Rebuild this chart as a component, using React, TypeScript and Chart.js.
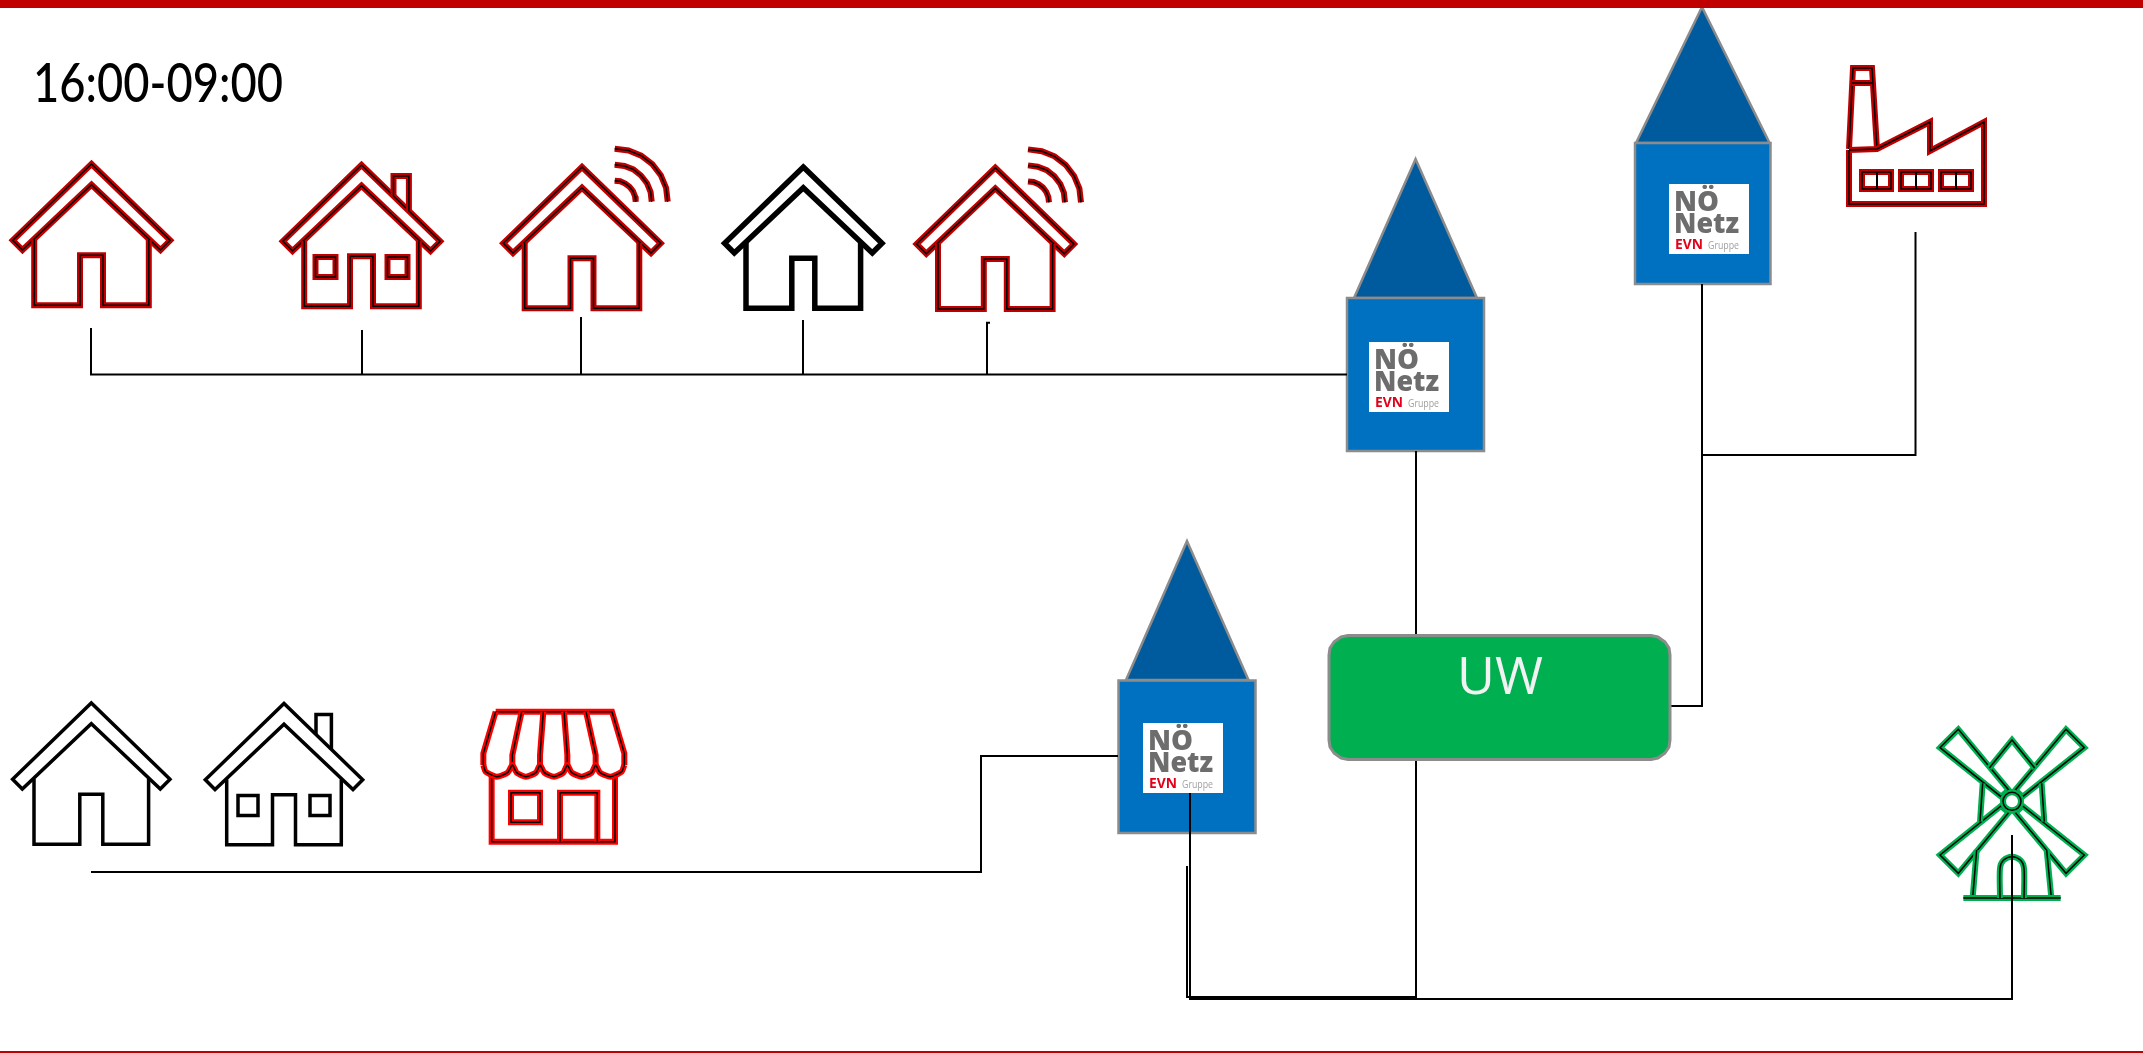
import React, { useEffect, useRef } from "react";
import { Chart, registerables } from "chart.js";

Chart.register(...registerables);

type P = [number, number];

const WIDTH = 2143;
const HEIGHT = 1053;

// ---- icon outlines, relative to the roof apex ----
const ROOF: P[] = [[0, 0], [78.7, 76.3], [69, 86], [0, 20.7], [-69, 86], [-78.7, 76.3]];
const WALL: P[] = [[-57.3, 76], [-57.3, 141.3], [-11.5, 141.3], [-11.5, 91.3], [11.5, 91.3], [11.5, 141.3], [57.3, 141.3], [57.3, 76]];
const CHIMNEY: P[] = [[32, 31], [32, 11], [47.4, 11], [47.4, 46]];
const WINDOW_LEFT: P[] = [[-46, 92], [-26, 92], [-26, 112], [-46, 112]];
const WINDOW_RIGHT: P[] = [[26, 92], [46, 92], [46, 112], [26, 112]];
const WIFI_OUTER: P[] = [[32.7, -18.3], [46.5, -16.5], [59.2, -11.4], [70.3, -2.9], [78.8, 8.2], [84.1, 20.9], [85.7, 34.7]];
const WIFI_MIDDLE: P[] = [[32.7, -2.3], [42.4, -1], [51.4, 2.4], [59, 8.5], [65, 16.2], [68.6, 25], [69.7, 34.7]];
const WIFI_INNER: P[] = [[32.7, 13.7], [38.2, 14.3], [43.2, 16.5], [47.6, 19.8], [51, 24.2], [53, 29.2], [53.7, 34.7]];

// ---- houses: apex positions ----
const RED_PLAIN_HOUSE: P = [91.5, 164];
const RED_CHIMNEY_HOUSE: P = [361.5, 165];
const RED_WIFI_HOUSES: P[] = [[582, 167], [995.3, 167.7]];
const BLACK_HOUSE: P = [803.3, 167];
const THIN_HOUSE: P = [91.3, 703];
const THIN_CHIMNEY_HOUSE: P = [284, 703.5];

// ---- shop, 1/3 scale around (480,700) ----
const SHOP_AWNING: P[] = [[47, 35], [396, 35], [433, 160], [433, 195]];
const SHOP_AWNING_LEFT: P[] = [[47, 35], [10, 160], [10, 195]];
const SHOP_SCALLOPS: P[] = [[10, 195], [17, 215], [50, 230], [83, 218], [97, 195], [110, 218], [138, 230], [168, 218], [180, 195], [193, 218], [222, 230], [250, 218], [262, 195], [275, 218], [305, 230], [335, 218], [347, 195], [360, 218], [392, 230], [425, 215], [433, 195]];
const SHOP_RIBS: P[][] = [
  [[125, 35], [97, 165], [97, 195]],
  [[190, 35], [180, 165], [180, 195]],
  [[252, 35], [262, 165], [262, 195]],
  [[318, 35], [347, 165], [347, 195]],
];
const SHOP_BODY: P[] = [[35, 228], [35, 425], [405, 425], [405, 228]];
const SHOP_WINDOW: P[] = [[93, 278], [180, 278], [180, 367], [93, 367]];
const SHOP_DOOR: P[] = [[240, 425], [240, 278], [352, 278], [352, 425]];

// ---- factory, absolute pixels ----
const FACTORY_BODY: P[] = [[1849, 150], [1849, 204], [1984, 204], [1984, 122], [1930, 151], [1930, 122], [1877, 149], [1849, 150]];
const FACTORY_STACK: P[] = [[1849, 149], [1853, 68], [1872, 68], [1877, 149]];
const FACTORY_BAND: P[] = [[1852, 83], [1872, 83]];
const FACTORY_WINDOWS: P[][] = [
  [[1862, 172], [1891, 172], [1891, 189], [1862, 189]],
  [[1901, 172], [1931, 172], [1931, 189], [1901, 189]],
  [[1941, 172], [1971, 172], [1971, 189], [1941, 189]],
];
const FACTORY_DIVIDERS: P[][] = [
  [[1877, 172], [1877, 189]],
  [[1916, 172], [1916, 189]],
  [[1956, 172], [1956, 189]],
];

// ---- windmill, 1/3 scale around (1900,700) ----
const MILL_BLADES: P[][] = [
  [[175, 88], [120, 143], [303, 290], [326, 270]],
  [[498, 88], [553, 143], [368, 290], [346, 270]],
  [[120, 465], [175, 520], [326, 338], [303, 318]],
  [[553, 465], [498, 520], [346, 338], [368, 318]],
];
const MILL_CAP: P[] = [[268, 204], [336, 120], [404, 204]];
const MILL_TOWER: P[][] = [
  [[248, 250], [240, 365]],
  [[425, 250], [433, 365]],
  [[230, 450], [218, 593]],
  [[440, 450], [454, 593]],
];
const MILL_BASE: P[] = [[190, 594], [482, 594]];
const MILL_DOOR: P[] = [[300, 594], [300, 505], [310, 481], [336, 470], [362, 481], [372, 505], [372, 594]];
const MILL_HUB: P = [336, 304];

// ---- stations ----
const TOWER_ROOFS: P[][] = [
  [[1354, 298], [1415.6, 159], [1477, 298]],
  [[1636, 143], [1702, 7], [1769.6, 143]],
  [[1126, 680], [1187, 541], [1248.5, 680]],
];
const TOWER_BODIES: P[][] = [
  [[1347, 298], [1484, 298], [1484, 451], [1347, 451]],
  [[1635, 143], [1770.5, 143], [1770.5, 284], [1635, 284]],
  [[1118.5, 680.5], [1255.5, 680.5], [1255.5, 833], [1118.5, 833]],
];
const LOGO_ORIGINS: P[] = [[1369, 342], [1669, 184], [1143, 723]];
const LOGO_BOX: P[] = [[0, 0], [80, 0], [80, 70], [0, 70]];

const UW_BOX: P[] = [
  [1348, 635.5], [1651, 635.5], [1658, 637], [1665, 642], [1669, 648], [1670, 655],
  [1670, 740], [1669, 747], [1665, 753], [1658, 758], [1651, 759.5],
  [1348, 759.5], [1341, 758], [1334, 753], [1330, 747], [1329, 740],
  [1329, 655], [1330, 648], [1334, 642], [1341, 637],
];

// ---- connectors ----
const CONNECTORS: P[][] = [
  [[91, 328], [91, 374.5], [1347, 374.5]],
  [[362, 330], [362, 374.5]],
  [[581, 317], [581, 374.5]],
  [[803, 320], [803, 374.5]],
  [[990, 322.7], [987, 322.7], [987, 374.5]],
  [[1416, 451], [1416, 635]],
  [[1416, 760], [1416, 997], [1187, 997], [1187, 866]],
  [[1190, 793], [1190, 999], [2012, 999], [2012, 835]],
  [[1670, 706], [1702, 706], [1702, 284]],
  [[1702, 455], [1915.5, 455], [1915.5, 232]],
  [[91, 872], [981, 872], [981, 756], [1118, 756]],
];

const TOP_BAR: P[] = [[0, 4], [2143, 4]];
const BOTTOM_BAR: P[] = [[0, 1052], [2143, 1052]];

// ---- text ----
const TITLE = "16:00-09:00";
const UW_LABEL = "UW";
const LOGO_LINES = ["NÖ", "Netz", "EVN", "Gruppe"];

const RED = "#C00000";
const SHOP_RED = "#FF0000";
const GREEN = "#00B050";
const GREY = "#8C8C8C";

function close(pts: P[]): P[] {
  return [...pts, pts[0], pts[1]];
}
function move(pts: P[], o: P): P[] {
  return pts.map(([x, y]) => [x + o[0], y + o[1]] as P);
}
function third(pts: P[], o: P): P[] {
  return pts.map(([x, y]) => [o[0] + x / 3, o[1] + y / 3] as P);
}

function buildDatasets() {
  const list: any[] = [];
  const add = (pts: P[], color: string, w: number, extra: any = {}) =>
    list.push({
      data: pts.map(([x, y]) => ({ x, y })),
      showLine: true,
      pointRadius: 0,
      borderColor: color,
      borderWidth: w,
      borderJoinStyle: "miter",
      borderCapStyle: "butt",
      fill: false,
      clip: false,
      tension: 0,
      ...extra,
    });
  const dbl = (pts: P[], outer: string, extra: any = {}) => {
    add(pts, outer, 6, extra);
    add(pts, "#000000", 1.5, extra);
  };
  const house = (o: P, stroke: (p: P[]) => void) => {
    stroke(close(move(ROOF, o)));
    stroke(move(WALL, o));
  };
  const extras = (o: P, stroke: (p: P[]) => void) => {
    stroke(move(CHIMNEY, o));
    stroke(close(move(WINDOW_LEFT, o)));
    stroke(close(move(WINDOW_RIGHT, o)));
  };
  const redStroke = (p: P[]) => dbl(p, RED);
  const thin = (p: P[]) => add(p, "#000000", 3.5);
  const bold = (p: P[]) => add(p, "#000000", 5.5);

  house(RED_PLAIN_HOUSE, redStroke);
  house(RED_CHIMNEY_HOUSE, redStroke);
  extras(RED_CHIMNEY_HOUSE, redStroke);
  RED_WIFI_HOUSES.forEach((o) => {
    house(o, redStroke);
    [WIFI_OUTER, WIFI_MIDDLE, WIFI_INNER].forEach((a) => redStroke(move(a, o)));
  });
  house(BLACK_HOUSE, bold);
  house(THIN_HOUSE, thin);
  house(THIN_CHIMNEY_HOUSE, thin);
  extras(THIN_CHIMNEY_HOUSE, thin);

  // shop
  const shopO: P = [480, 700];
  const shopStroke = (p: P[]) => dbl(p, SHOP_RED);
  shopStroke(third(SHOP_BODY, shopO));
  shopStroke(close(third(SHOP_WINDOW, shopO)));
  shopStroke(third(SHOP_DOOR, shopO));
  shopStroke(third(SHOP_AWNING, shopO));
  shopStroke(third(SHOP_AWNING_LEFT, shopO));
  SHOP_RIBS.forEach((r) => shopStroke(third(r, shopO)));
  dbl(third(SHOP_SCALLOPS, shopO), SHOP_RED, { tension: 0.2 });

  // factory
  redStroke(FACTORY_STACK);
  redStroke(FACTORY_BAND);
  redStroke(FACTORY_BODY);
  FACTORY_WINDOWS.forEach((w) => redStroke(close(w)));
  FACTORY_DIVIDERS.forEach((w) => add(w, "#000000", 2));

  // stations
  TOWER_ROOFS.forEach((t) =>
    add(close(t), GREY, 2.5, { fill: "shape", backgroundColor: "#005A9E" })
  );
  TOWER_BODIES.forEach((t) =>
    add(close(t), GREY, 2.5, { fill: "shape", backgroundColor: "#0070C0" })
  );

  // connectors go over the station bodies, under the logos
  CONNECTORS.forEach((c) => add(c, "#000000", 2));

  LOGO_ORIGINS.forEach((o) =>
    add(close(move(LOGO_BOX, o)), "#FFFFFF", 0, { fill: "shape", backgroundColor: "#FFFFFF" })
  );

  add(close(UW_BOX), GREY, 3, { fill: "shape", backgroundColor: GREEN, borderJoinStyle: "round" });

  // windmill
  const millO: P = [1900, 700];
  const millStroke = (p: P[]) => dbl(p, GREEN);
  MILL_BLADES.forEach((b) => millStroke(close(third(b, millO))));
  millStroke(third(MILL_CAP, millO));
  MILL_TOWER.forEach((t) => millStroke(third(t, millO)));
  millStroke(third(MILL_BASE, millO));
  dbl(third(MILL_DOOR, millO), GREEN, { tension: 0.3 });
  const hub = third([MILL_HUB], millO);
  [[GREEN, 6], ["#000000", 1.5]].forEach(([c, w]) =>
    list.push({
      data: [{ x: hub[0][0], y: hub[0][1] }],
      showLine: false,
      pointRadius: 9,
      pointBorderWidth: w,
      pointBorderColor: c,
      pointBackgroundColor: "rgba(0,0,0,0)",
      clip: false,
    })
  );

  // the wind turbine's feed runs over its icon
  add([[2012, 999], [2012, 835]], "#000000", 2);

  add(TOP_BAR, RED, 8);
  add(BOTTOM_BAR, RED, 2);

  list.forEach((d, i) => (d.order = -i));
  return list;
}

const textPlugin = {
  id: "diagramText",
  afterDatasetsDraw(chart: any) {
    const { ctx, scales } = chart;
    const put = (
      text: string, x: number, y: number, font: string, color: string,
      align: CanvasTextAlign = "left", maxWidth?: number
    ) => {
      ctx.save();
      ctx.font = font;
      ctx.fillStyle = color;
      ctx.textAlign = align;
      ctx.textBaseline = "alphabetic";
      const px = scales.x.getPixelForValue(x);
      const py = scales.y.getPixelForValue(y);
      if (maxWidth) ctx.fillText(text, px, py, maxWidth);
      else ctx.fillText(text, px, py);
      ctx.restore();
    };
    put(TITLE, 33, 102, '500 54px Lato, "Open Sans", sans-serif', "#000000", "left", 250);
    put(UW_LABEL, 1500, 693.5, '52px "Open Sans", sans-serif', "#F2F2F2", "center");
    LOGO_ORIGINS.forEach(([ox, oy]) => {
      put(LOGO_LINES[0], ox + 5, oy + 27, '800 28px "Open Sans", sans-serif', "#6D6D6D", "left", 45);
      put(LOGO_LINES[1], ox + 5, oy + 49, '800 28px "Open Sans", sans-serif', "#6D6D6D", "left", 65);
      put(LOGO_LINES[2], ox + 6, oy + 64.7, 'bold 14px "Open Sans", sans-serif', "#E2001A", "left", 28);
      put(LOGO_LINES[3], ox + 39, oy + 64.7, '11px "Open Sans", sans-serif', "#A0A0A0", "left", 31);
    });
  },
};

export default function App() {
  const ref = useRef<HTMLCanvasElement>(null);
  useEffect(() => {
    const chart = new Chart(ref.current as HTMLCanvasElement, {
      type: "scatter",
      data: { datasets: buildDatasets() },
      plugins: [textPlugin],
      options: {
        animation: false,
        responsive: false,
        layout: { padding: 0, autoPadding: false },
        events: [],
        plugins: {
          legend: { display: false },
          title: { display: false },
          tooltip: { enabled: false },
        },
        scales: {
          x: { type: "linear", display: false, min: 0, max: WIDTH },
          y: { type: "linear", display: false, min: 0, max: HEIGHT, reverse: true },
        },
      },
    } as any);
    return () => chart.destroy();
  }, []);
  return (
    <div style={{ position: "absolute", left: 0, top: 0, width: WIDTH, height: HEIGHT, background: "#FFFFFF", overflow: "hidden" }}>
      <canvas ref={ref} width={WIDTH} height={HEIGHT} style={{ display: "block" }} />
    </div>
  );
}
